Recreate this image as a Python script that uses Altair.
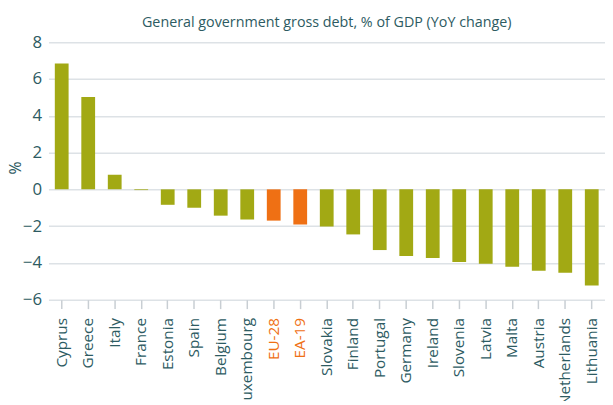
import altair as alt
import pandas as pd

countries = ["Cyprus", "Greece", "Italy", "France", "Estonia", "Spain", "Belgium",
             "Luxembourg", "EU-28", "EA-19", "Slovakia", "Finland", "Portugal",
             "Germany", "Ireland", "Slovenia", "Latvia", "Malta", "Austria",
             "Netherlands", "Lithuania"]
values = [6.84, 5.02, 0.79, -0.04, -0.84, -1.0, -1.43, -1.64, -1.70, -1.91, -2.02,
          -2.45, -3.30, -3.63, -3.73, -3.95, -4.05, -4.21, -4.43, -4.54, -5.23]
groups = ["Country"] * 8 + ["Aggregate"] * 2 + ["Country"] * 11

df = pd.DataFrame({"country": countries, "value": values, "group": groups})

TEXT = "#2D5B62"
GREEN = "#A2A914"
ORANGE = "#EF7014"
FONT = "Open Sans"

chart = alt.Chart(df).mark_bar().encode(
    x=alt.X("country:N", sort=countries, title=None,
            scale=alt.Scale(paddingInner=0.48, paddingOuter=0.24),
            axis=alt.Axis(labelAngle=-90, domain=False, ticks=True, tickSize=9,
                          tickColor="#C8CED3", tickWidth=1.5, labelPadding=9,
                          labelFontSize=15.5, labelFont=FONT,
                          labelColor=alt.ExprRef(expr="datum.value == 'EU-28' || datum.value == 'EA-19' ? '#EF7014' : '#2D5B62'"))),
    y=alt.Y("value:Q", title="%",
            scale=alt.Scale(domain=[-6, 8], nice=False),
            axis=alt.Axis(values=[-6, -4, -2, 0, 2, 4, 6, 8], grid=True, domain=False,
                          ticks=False, labelPadding=7, labelFontSize=17,
                          labelFont=FONT, labelColor=TEXT, titleColor=TEXT,
                          titleFont=FONT, titleFontSize=16, titleFontWeight="normal",
                          titleX=-33, titleY=127, titleAngle=-90, titleAlign="center",
                          titleBaseline="middle",
                          gridColor="#DDE2E6", gridWidth=1.5)),
    color=alt.Color("group:N", scale=alt.Scale(domain=["Country", "Aggregate"],
                                               range=[GREEN, ORANGE]), legend=None),
).properties(
    width=564, height=261,
    title=alt.TitleParams("General government gross debt, % of GDP (YoY change)",
                          font=FONT, fontSize=14.5, fontWeight="normal", color=TEXT,
                          anchor="middle", offset=3),
    autosize=alt.AutoSizeParams(type="none"),
    padding={"left": 41, "top": 32, "right": 0, "bottom": 100},
).configure_view(stroke=None)

chart.save("out.html", embed_options={"renderer": "svg", "actions": False})
